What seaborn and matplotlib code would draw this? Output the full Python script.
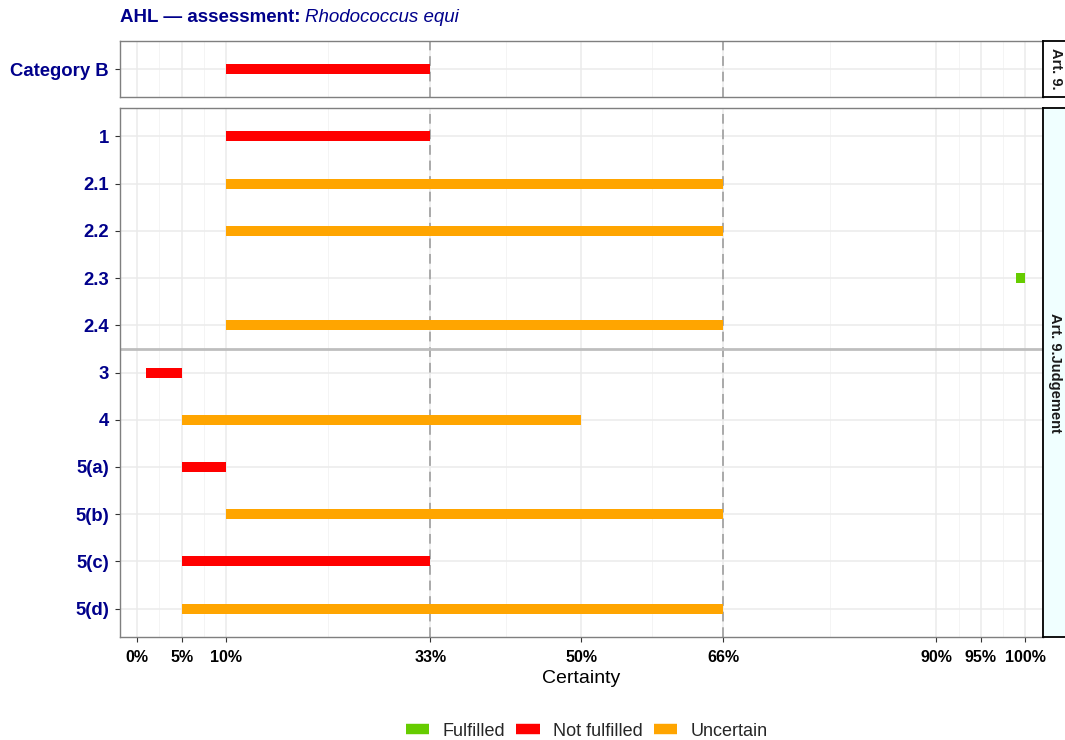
import numpy as np
import pandas as pd
import seaborn as sns
import matplotlib
matplotlib.use("Agg")
from matplotlib import pyplot as plt
from matplotlib.lines import Line2D

# data
top_rows = ["Category B"]
top_lo = [10]
top_hi = [33]
top_status = ["Not fulfilled"]

judg_rows = ["1", "2.1", "2.2", "2.3", "2.4", "3", "4", "5(a)", "5(b)", "5(c)", "5(d)"]
judg_lo = [10, 10, 10, 99, 10, 1, 5, 5, 10, 5, 5]
judg_hi = [33, 66, 66, 100, 66, 5, 50, 10, 66, 33, 66]
judg_status = ["Not fulfilled", "Uncertain", "Uncertain", "Fulfilled", "Uncertain",
               "Not fulfilled", "Uncertain", "Not fulfilled", "Uncertain",
               "Not fulfilled", "Uncertain"]

x_breaks = [0, 5, 10, 33, 50, 66, 90, 95, 100]
x_labels = ["0%", "5%", "10%", "33%", "50%", "66%", "90%", "95%", "100%"]
dashed_at = [33, 66]
group_split = 4.5  # between 2.4 and 3

statuses = ["Fulfilled", "Not fulfilled", "Uncertain"]
palette = {"Fulfilled": "#66CC00", "Not fulfilled": "#FF0000", "Uncertain": "#FFA500"}

NAVY = "#00008B"

sns.set_theme(style="whitegrid")
plt.rcParams["font.family"] = ["Liberation Sans", "DejaVu Sans"]


def to_long(rows, lo, hi, status):
    """Two points per segment so lineplot draws one line per row."""
    recs = []
    for i in range(len(rows)):
        recs.append({"x": lo[i], "y": i, "status": status[i], "id": i})
        recs.append({"x": hi[i], "y": i, "status": status[i], "id": i})
    return pd.DataFrame(recs)


def style_panel(ax, rows, show_x):
    n = len(rows)
    ax.set_xlim(-2.0, 102.0)
    ax.set_ylim(n - 1 + 0.6, -0.6)
    ax.set_facecolor("white")
    ax.grid(False)
    minor = [(a + b) / 2 for a, b in zip(x_breaks[:-1], x_breaks[1:])]
    for m in minor:
        ax.axvline(m, color="#F2F2F2", lw=0.6, zorder=0)
    for b in x_breaks:
        ax.axvline(b, color="#EBEBEB", lw=1.1, zorder=0)
    for i in range(n):
        ax.axhline(i, color="#EBEBEB", lw=1.1, zorder=0)
    for d in dashed_at:
        ax.axvline(d, color="#AAAAAA", lw=1.4, ls=(0, (5, 3)), zorder=1)
    ax.set_yticks(range(n))
    ax.set_yticklabels(rows, fontsize=13.3, fontweight="bold", color=NAVY)
    ax.set_xticks(x_breaks)
    if show_x:
        ax.set_xticklabels(x_labels, fontsize=11.5, fontweight="bold", color="black")
    else:
        ax.set_xticklabels([])
    ax.tick_params(axis="both", length=3.5, width=0.8, color="#333333", pad=4,
                   bottom=show_x, left=True, labelbottom=show_x)
    ax.tick_params(axis="x", pad=5.5)
    for sp in ax.spines.values():
        sp.set_visible(True)
        sp.set_color("#7F7F7F")
        sp.set_linewidth(1.0)
    ax.set_xlabel("")
    ax.set_ylabel("")


def add_strip(fig, rect, label, face):
    sax = fig.add_axes(rect)
    sax.set_facecolor(face)
    sax.set_xticks([])
    sax.set_yticks([])
    for sp in sax.spines.values():
        sp.set_visible(True)
        sp.set_color("black")
        sp.set_linewidth(1.3)
    sax.text(0.5, 0.5, label, rotation=270, ha="center", va="center",
             fontsize=10.5, fontweight="bold", color="#1A1A1A",
             transform=sax.transAxes)


W, H = 1065, 740
fig = plt.figure(figsize=(W / 100, H / 100), dpi=100)
left, right = 119.5 / W, 1043 / W
ax_top = fig.add_axes([left, 1 - 97 / H, right - left, 56 / H])
ax_bot = fig.add_axes([left, 1 - 637 / H, right - left, 529 / H])

for ax, rows, lo, hi, st, show_x in [
        (ax_top, top_rows, top_lo, top_hi, top_status, False),
        (ax_bot, judg_rows, judg_lo, judg_hi, judg_status, True)]:
    df = to_long(rows, lo, hi, st)
    sns.lineplot(data=df, x="x", y="y", hue="status", units="id",
                 estimator=None, sort=False, palette=palette, lw=7.2,
                 solid_capstyle="butt", legend=False, ax=ax, zorder=3)
    style_panel(ax, rows, show_x)

ax_bot.axhline(group_split, color="#BEBEBE", lw=2, zorder=2)
ax_bot.set_xlabel("Certainty", fontsize=14, color="black", labelpad=4)

add_strip(fig, [1043 / W, 1 - 97 / H, 25 / W, 56 / H], "Art. 9.", "white")
add_strip(fig, [1043 / W, 1 - 637 / H, 25 / W, 529 / H], "Art. 9.Judgement", "#F0FFFF")

# title: bold part followed by italic species name
t = fig.text(left, 1 - 18 / H, "AHL \u2014 assessment: ", fontsize=13.5,
             fontweight="bold", color=NAVY, va="center", ha="left")
ax_top.annotate("Rhodococcus equi", xy=(1, 0), xycoords=t, va="bottom", ha="left",
                fontsize=13.5, style="italic", color=NAVY, annotation_clip=False)

handles = [Line2D([0], [0], color=palette[s], lw=7.5, solid_capstyle="butt")
           for s in statuses]
fig.legend(handles, statuses, loc="center", bbox_to_anchor=(0.551, 1 - 731 / H),
           ncol=3, frameon=False, fontsize=13, handlelength=1.3,
           handletextpad=0.75, columnspacing=0.6)

fig.savefig("out.png", dpi=100)
